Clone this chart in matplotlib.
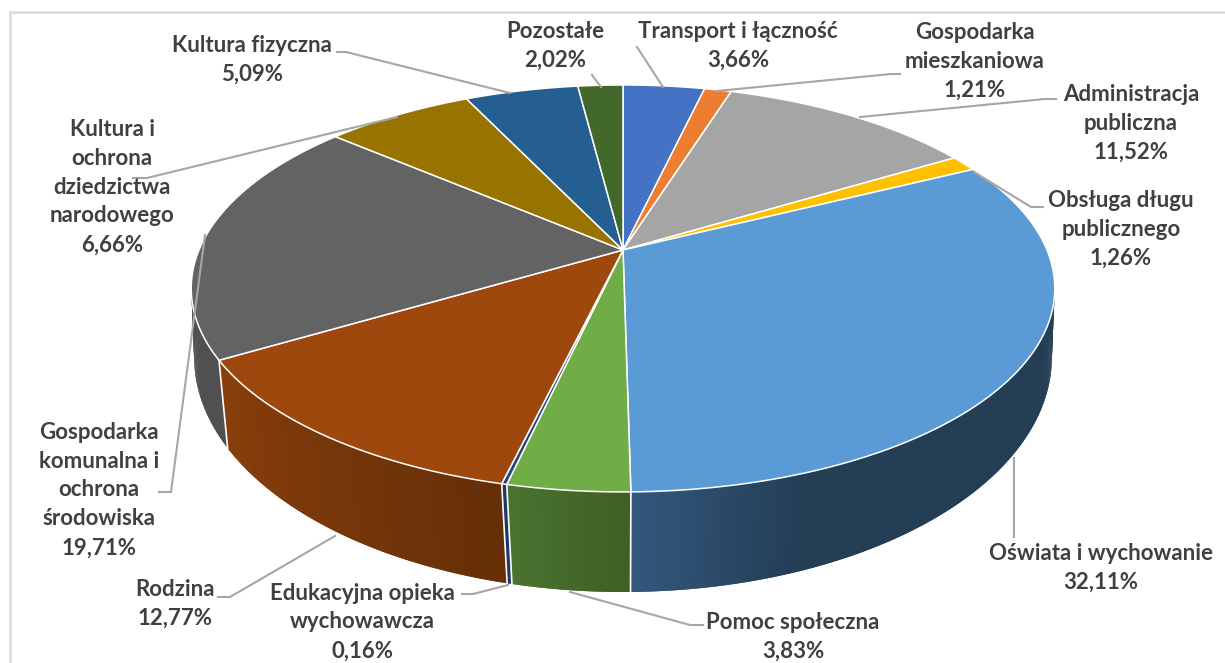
import numpy as np
import matplotlib
matplotlib.use('Agg')
import matplotlib.pyplot as plt
from matplotlib.colors import to_rgb

## values, clockwise from 12 o'clock
names = ['Transport i łączność', 'Gospodarka\nmieszkaniowa', 'Administracja\npubliczna',
         'Obsługa długu\npublicznego', 'Oświata i wychowanie', 'Pomoc społeczna',
         'Edukacyjna opieka\nwychowawcza', 'Rodzina', 'Gospodarka\nkomunalna i\nochrona\nśrodowiska',
         'Kultura i\nochrona\ndziedzictwa\nnarodowego', 'Kultura fizyczna', 'Pozostałe']
values = [3.66, 1.21, 11.52, 1.26, 32.11, 3.83, 0.16, 12.77, 19.71, 6.66, 5.09, 2.02]
colors = ['#4472c4', '#ed7d31', '#a5a5a5', '#ffc000', '#5b9bd5', '#70ad47',
          '#264478', '#9e480e', '#636363', '#997300', '#255e91', '#43682b']
# side shading per slice: left colour, right colour, how far along the slice it takes
side_left = {4: '#33587d', 5: '#4a7430', 6: '#1f3864', 7: '#8a3f0c', 8: '#505050'}
side_right = {4: '#243e56', 5: '#3f6024', 6: '#1f3864', 7: '#662f08', 8: '#505050'}
side_span = {4: 0.17, 5: 1.0, 6: 1.0, 7: 1.0, 8: 1.0}

# label centres in pixels
label_x = [738, 975, 1131, 1121, 1101, 793, 362, 175, 99, 112, 252, 555]
label_y = [46, 61, 123, 229, 568, 637, 622, 604, 490, 187, 60, 46]
leaders = [
    [(637, 47), (663, 87)],
    [(900, 74), (891, 74), (717, 91)],
    [(1056, 99), (1045, 99), (860, 117)],
    [(1043, 207), (1031, 207), (974, 172)],
    [(1014, 458), (1014, 537)],
    [(703, 625), (690, 625), (570, 592)],
    [(462, 594), (473, 594), (508, 585)],
    [(218, 597), (230, 597), (335, 536)],
    [(159, 492), (171, 492), (205, 235)],
    [(133, 178), (147, 178), (397, 117)],
    [(337, 52), (346, 52), (510, 93)],
    [(592, 75), (601, 87)],
]

fig = plt.figure(figsize=(12.25, 6.63), dpi=100)
ax = fig.add_axes([0, 0, 1, 1])
ax.set_xlim(0, 1225)
ax.set_ylim(663, 0)
ax.axis('off')

# chart frame, cut off on the right and at the bottom
ax.plot([10, 10, 1225], [663, 12, 12], color='#d9d9d9', lw=1.8, solid_joinstyle='miter')


def top_rim(t):
    w = 1 + 0.189 * np.cos(t)
    return 623 + 424 * np.sin(t) / w, 250 - 196.2 * np.cos(t) / w


def bottom_rim(t):
    w = 1 + 0.15 * np.cos(t)
    return 623 + 424 * np.sin(t) / w, 322 - 229.5 * np.cos(t) / w


edges = np.radians(np.cumsum([0] + values) * 3.6)

# side of the pie, thin strips from the back to the front
strips = []
for i in side_left:
    n = max(int(np.degrees(edges[i + 1] - edges[i]) * 2), 2)
    tt = np.linspace(edges[i], edges[i + 1], n + 1)
    step = tt[1] - tt[0]
    for j in range(n):
        # slices run right to left along the front
        f = min((n - 1 - j) / max(n - 1, 1) / side_span[i], 1.0)
        c = np.array(to_rgb(side_left[i])) * (1 - f) + np.array(to_rgb(side_right[i])) * f
        # each strip lies a bit under its neighbour, so no seams show
        strips.append((i, j, tt[j], min(tt[j + 1] + step, edges[i + 1]), c))
# left to right in each slice order, later strips on top of the overlap
strips.sort(key=lambda s: (s[0], -s[1]))
for s in strips:
    x0, y0 = top_rim(s[2])
    x1, y1 = top_rim(s[3])
    x2, y2 = bottom_rim(s[3])
    x3, y3 = bottom_rim(s[2])
    ax.fill([x0, x1, x2, x3], [y0, y1, y2, y3], color=s[4], lw=0, zorder=2)

# white lines between the side pieces
for i in [5, 6, 7, 8]:
    x0, y0 = top_rim(edges[i])
    x1, y1 = bottom_rim(edges[i])
    ax.plot([x0, x1], [y0, y1], color='white', lw=1.2, zorder=3)

# top of the pie
for i in range(len(values)):
    tt = np.linspace(edges[i], edges[i + 1], 80)
    xs, ys = top_rim(tt)
    ax.fill(np.r_[623, xs], np.r_[250, ys], facecolor=colors[i], edgecolor='white',
            lw=1.1, joinstyle='round', zorder=4)

for pts in leaders:
    ax.plot([p[0] for p in pts], [p[1] for p in pts], color='#a6a6a6', lw=1.5, zorder=5)

for i in range(len(values)):
    txt = names[i] + '\n' + ('%.2f%%' % values[i]).replace('.', ',')
    ax.text(label_x[i], label_y[i], txt, ha='center', va='center', ma='center', family='Lato',
            weight='bold', fontsize=16, color='#404040', linespacing=1.47, zorder=6)

plt.savefig('out.png', dpi=100)
